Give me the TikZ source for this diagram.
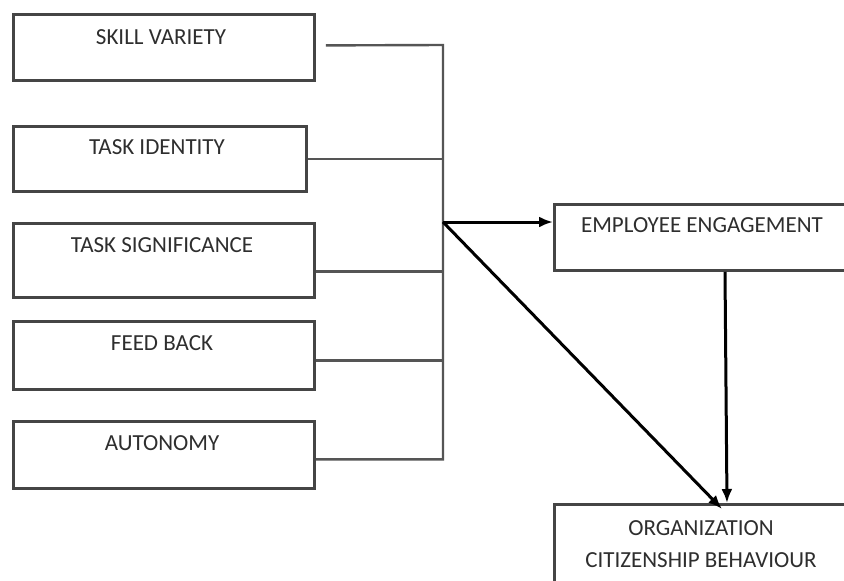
\documentclass[tikz,border=0pt]{standalone}
\usepackage{fontspec}
\setmainfont{Carlito}
\usetikzlibrary{arrows.meta,calc}
\definecolor{boxgray}{HTML}{454545}
\definecolor{linegray}{HTML}{555555}
\definecolor{txtgray}{HTML}{2E2E2E}
\begin{document}
\begin{tikzpicture}[x=1pt,y=-1pt,
  box/.style={draw=boxgray, line width=2.8pt, rectangle, inner sep=0pt, anchor=north west},
  lbl/.style={text=txtgray, font=\fontsize{23}{32}\selectfont, inner sep=0pt, anchor=center, align=center},
  conn/.style={draw=linegray, line width=2.4pt},
  arr/.style={draw=black, line width=3pt, -{Latex[length=14pt,width=11pt]}}]
\useasboundingbox (0,0) rectangle (844,581);
\clip (0,0) rectangle (844,581);
\fill[white] (0,0) rectangle (844,581);

% job characteristics
\node[box, minimum width=301pt, minimum height=66pt] (sv) at (12,13) {};
\node[box, minimum width=293pt, minimum height=65pt] (ti) at (12,125) {};
\node[box, minimum width=301pt, minimum height=74pt] (ts) at (12,222) {};
\node[box, minimum width=301pt, minimum height=68pt] (fb) at (12,320) {};
\node[box, minimum width=301pt, minimum height=67pt] (au) at (12,420) {};
\node[lbl] (svt) at (161,37) {SKILL VARIETY};
\node[lbl] (tit) at (157,147) {TASK IDENTITY};
\node[lbl] (tst) at (162,245) {TASK SIGNIFICANCE};
\node[lbl] (fbt) at (162,343) {FEED BACK};
\node[lbl] (aut) at (162,443) {AUTONOMY};

% outcomes
\node[box, minimum width=320pt, minimum height=66pt] (ee) at (553,203) {};
\node[box, minimum width=320pt, minimum height=120pt] (ocb) at (553,503) {};
\node[lbl] (eet) at (702,225) {EMPLOYEE ENGAGEMENT};
\node[lbl] (ocbt) at (701,544) {ORGANIZATION\\CITIZENSHIP BEHAVIOUR};

% collecting bus
\coordinate (bt) at (443,45);
\coordinate (bb) at (443,458);
\coordinate (hub) at (443,222);
\coordinate (svo) at ([xshift=10pt,yshift=2pt]sv.east);
\coordinate (tso) at ([yshift=-11pt]ts.east);
\coordinate (fbo) at ([yshift=-5pt]fb.east);
\coordinate (auo) at ([yshift=-4.5pt]au.east);
\draw[conn] (svo) -- (bt) -- (bb) -- (auo -| bt) -- (auo);
\draw[conn] (ti.east) -- (ti.east -| bt);
\draw[conn] (tso) -- (tso -| bt);
\draw[conn] (fbo) -- (fbo -| bt);

% effects
\coordinate (eeo) at ($(ee.south west)+(172,0)$);
\coordinate (ocbv) at ($(ocb.north west)+(174,0)$);
\coordinate (ocbd) at ($(ocb.north west)+(169,6)$);
\draw[arr] (hub) -- (hub -| ee.west);
\draw[arr] (hub) -- (ocbd);
\draw[arr] (eeo) -- (ocbv);
\end{tikzpicture}
\end{document}
